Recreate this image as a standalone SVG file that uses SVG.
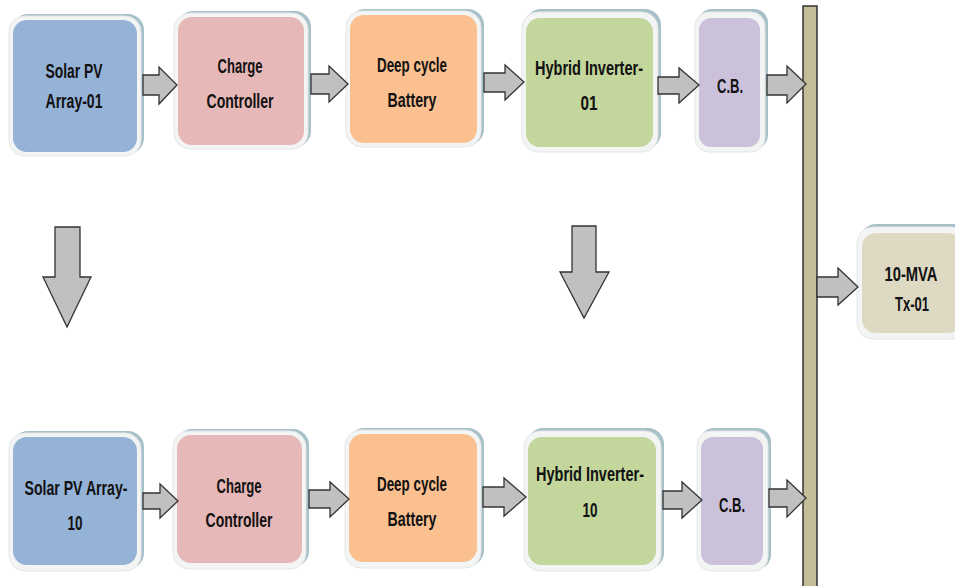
<svg xmlns="http://www.w3.org/2000/svg" width="955" height="586" viewBox="0 0 955 586">
<style>
.back{fill:#a7c1c9}
.rim{fill:#f3f4f4;stroke:#e4e6e7;stroke-width:1}
.t{font-family:"Liberation Sans",Arial,sans-serif;font-size:20px;font-weight:bold;fill:#111;text-anchor:middle}
.arr{fill:#c0c0c0;stroke:#333;stroke-width:1.3;stroke-linejoin:miter}
.pv{fill:#95b3d7}.cc{fill:#e6b9b8}.bt{fill:#fac090}.hi{fill:#c3d69b}.cb{fill:#ccc1da}.tx{fill:#ddd9c3}
</style>
<rect width="955" height="586" fill="#fff"/>

<g id="pv1">
<rect class="back" x="12" y="14" width="132" height="140" rx="16"/>
<rect class="rim" x="9" y="16" width="132" height="140" rx="16"/>
<rect class="pv" x="13" y="20" width="124" height="132" rx="14"/>
<text class="t" x="74" y="78" textLength="57" lengthAdjust="spacingAndGlyphs">Solar PV</text>
<text class="t" x="74" y="108" textLength="57" lengthAdjust="spacingAndGlyphs">Array-01</text>
</g>
<g id="cc1">
<rect class="back" x="177" y="11" width="134" height="136" rx="16"/>
<rect class="rim" x="174" y="13" width="134" height="136" rx="16"/>
<rect class="cc" x="178" y="17" width="126" height="128" rx="14"/>
<text class="t" x="240" y="73" textLength="45" lengthAdjust="spacingAndGlyphs">Charge</text>
<text class="t" x="240" y="108" textLength="67" lengthAdjust="spacingAndGlyphs">Controller</text>
</g>
<g id="bt1">
<rect class="back" x="349" y="9" width="135" height="136" rx="16"/>
<rect class="rim" x="346" y="11" width="135" height="136" rx="16"/>
<rect class="bt" x="350" y="15" width="127" height="128" rx="14"/>
<text class="t" x="412" y="72" textLength="70" lengthAdjust="spacingAndGlyphs">Deep cycle</text>
<text class="t" x="412" y="107" textLength="49" lengthAdjust="spacingAndGlyphs">Battery</text>
</g>
<g id="hi1">
<rect class="back" x="525" y="9" width="136" height="140" rx="16"/>
<rect class="rim" x="522" y="12" width="136" height="140" rx="16"/>
<rect class="hi" x="526" y="18" width="127" height="129" rx="14"/>
<text class="t" x="589" y="75" textLength="108" lengthAdjust="spacingAndGlyphs">Hybrid Inverter-</text>
<text class="t" x="589" y="110" textLength="17" lengthAdjust="spacingAndGlyphs">01</text>
</g>
<g id="cb1">
<rect class="back" x="698" y="9" width="70" height="140" rx="14"/>
<rect class="rim" x="695" y="12" width="70" height="140" rx="14"/>
<rect class="cb" x="699" y="18" width="61" height="129" rx="12"/>
<text class="t" x="730" y="93" textLength="26" lengthAdjust="spacingAndGlyphs">C.B.</text>
</g>

<g id="tx1">
<rect class="back" x="860" y="224" width="110" height="114" rx="16"/>
<rect class="rim" x="857" y="227" width="110" height="112" rx="16"/>
<rect class="tx" x="862" y="233" width="100" height="100" rx="14"/>
<text class="t" x="911" y="281" textLength="53" lengthAdjust="spacingAndGlyphs">10-MVA</text>
<text class="t" x="912" y="311" textLength="34" lengthAdjust="spacingAndGlyphs">Tx-01</text>
</g>

<g id="pv10">
<rect class="back" x="12" y="431" width="132" height="138" rx="16"/>
<rect class="rim" x="9" y="433" width="132" height="138" rx="16"/>
<rect class="pv" x="13" y="437" width="124" height="128" rx="14"/>
<text class="t" x="76" y="495" textLength="103" lengthAdjust="spacingAndGlyphs">Solar PV Array-</text>
<text class="t" x="75" y="530" textLength="15" lengthAdjust="spacingAndGlyphs">10</text>
</g>
<g id="cc10">
<rect class="back" x="176" y="429" width="133" height="138" rx="16"/>
<rect class="rim" x="173" y="431" width="133" height="138" rx="16"/>
<rect class="cc" x="177" y="435" width="125" height="128" rx="14"/>
<text class="t" x="239" y="493" textLength="45" lengthAdjust="spacingAndGlyphs">Charge</text>
<text class="t" x="239" y="527" textLength="67" lengthAdjust="spacingAndGlyphs">Controller</text>
</g>
<g id="bt10">
<rect class="back" x="348" y="428" width="136" height="138" rx="16"/>
<rect class="rim" x="345" y="430" width="136" height="138" rx="16"/>
<rect class="bt" x="349" y="434" width="128" height="128" rx="14"/>
<text class="t" x="412" y="491" textLength="70" lengthAdjust="spacingAndGlyphs">Deep cycle</text>
<text class="t" x="412" y="526" textLength="49" lengthAdjust="spacingAndGlyphs">Battery</text>
</g>
<g id="hi10">
<rect class="back" x="527" y="428" width="137" height="141" rx="16"/>
<rect class="rim" x="524" y="431" width="137" height="140" rx="16"/>
<rect class="hi" x="528" y="437" width="128" height="128" rx="14"/>
<text class="t" x="590" y="481" textLength="108" lengthAdjust="spacingAndGlyphs">Hybrid Inverter-</text>
<text class="t" x="590" y="517" textLength="15" lengthAdjust="spacingAndGlyphs">10</text>
</g>
<g id="cb10">
<rect class="back" x="700" y="428" width="71" height="141" rx="14"/>
<rect class="rim" x="697" y="431" width="71" height="140" rx="14"/>
<rect class="cb" x="701" y="437" width="62" height="128" rx="12"/>
<text class="t" x="732" y="512" textLength="26" lengthAdjust="spacingAndGlyphs">C.B.</text>
</g>

<g id="bus">
<rect x="803" y="6" width="14" height="590" fill="#c4bd97" stroke="#333" stroke-width="1.5"/>
</g>

<g id="connectors">
<polygon class="arr" points="143,75 159,75 159,67 177,85 159,104 159,95 143,95"/>
<polygon class="arr" points="311,74 329,74 329,66 348,84 329,102 329,94 311,94"/>
<polygon class="arr" points="484,73 505,73 505,65 524,82 505,100 505,92 484,92"/>
<polygon class="arr" points="658,77 679,77 679,68 699,85 679,103 679,94 658,94"/>
<polygon class="arr" points="767,75 787,75 787,66 806,84 787,103 787,95 767,95"/>

<polygon class="arr" points="817,277 838,277 838,268 858,287 838,305 838,297 817,297"/>

<polygon class="arr" points="55,227 80,227 80,277 91,277 67,327 43,277 55,277"/>
<polygon class="arr" points="572,226 596,226 596,272 609,272 584,318 560,272 572,272"/>

<polygon class="arr" points="143,493 160,493 160,484 178,501 160,518 160,509 143,509"/>
<polygon class="arr" points="309,490 330,490 330,482 349,499 330,517 330,508 309,508"/>
<polygon class="arr" points="483,487 504,487 504,478 526,497 504,516 504,507 483,507"/>
<polygon class="arr" points="663,491 682,491 682,482 702,500 682,518 682,509 663,509"/>
<polygon class="arr" points="769,489 787,489 787,480 806,498 787,517 787,507 769,507"/>
</g>
</svg>
